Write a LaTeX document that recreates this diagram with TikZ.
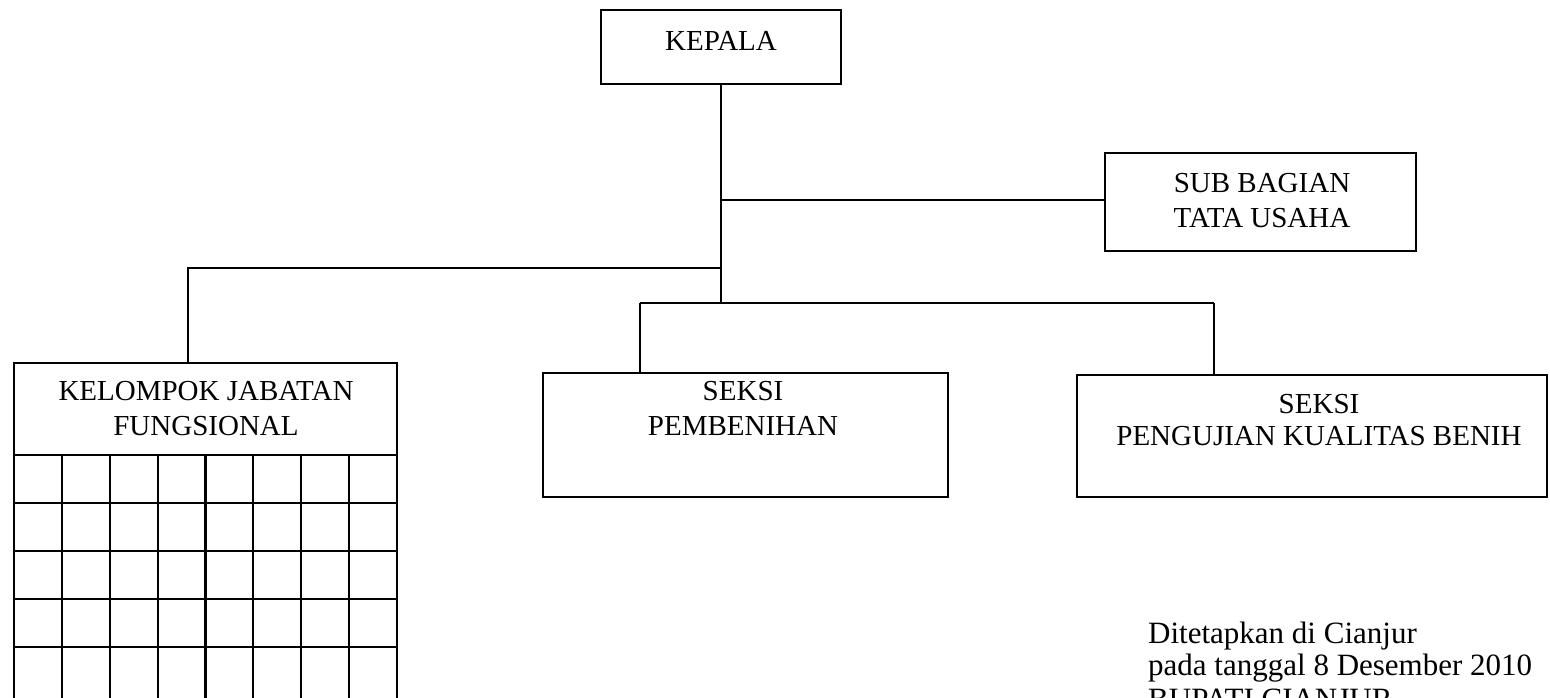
\documentclass[tikz,border=0pt]{standalone}
\usepackage{fontspec}
\setmainfont{Liberation Serif}
\begin{document}
\begin{tikzpicture}[x=1pt,y=-1pt,
  box/.style={draw=black, line width=2pt, inner sep=0pt, outer sep=0pt, rectangle},
  conn/.style={draw=black, line width=2pt},
  gridline/.style={draw=black, line width=2.2pt},
  txt/.style={font=\fontsize{29}{34}\selectfont, inner sep=0pt, anchor=base},
  note/.style={font=\fontsize{31}{36}\selectfont, inner sep=0pt, anchor=base west}]
\useasboundingbox (0,0) rectangle (1550,697);
\clip (0,0) rectangle (1550,697);
\fill[white] (0,0) rectangle (1550,697);

% boxes
\node[box, minimum width=240pt, minimum height=74pt] (kepala) at (721,47) {};
\node[box, minimum width=311pt, minimum height=98pt] (sub) at (1260.5,202) {};
\node[box, minimum width=383pt, minimum height=92pt] (kelompok) at (205.5,409) {};
\node[box, minimum width=405pt, minimum height=124pt] (pemb) at (745.5,435) {};
\node[box, minimum width=470pt, minimum height=122pt] (peng) at (1312,436) {};

% texts
\node[txt] (tkepala) at (721,50) {KEPALA};
\node[txt] (tsub1) at (1262,192) {SUB BAGIAN};
\node[txt] (tsub2) at (1262,227) {TATA USAHA};
\node[txt] (tkel1) at (206,400) {KELOMPOK JABATAN};
\node[txt] (tkel2) at (206,435) {FUNGSIONAL};
\node[txt] (tpemb1) at (743,400) {SEKSI};
\node[txt] (tpemb2) at (743,435) {PEMBENIHAN};
\node[txt] (tpeng1) at (1319,413) {SEKSI};
\node[txt] (tpeng2) at (1319,445) {PENGUJIAN KUALITAS BENIH};

% grid below kelompok
\foreach \i in {0,...,8} {
  \draw[gridline] (14+\i*47.875,455) -- ++(0,260);
}
\foreach \j in {0,...,4} {
  \draw[gridline] (14,455+\j*48) -- (397,455+\j*48);
}

% connectors
\coordinate (jsub) at (721,200);
\coordinate (jleft) at (721,268);
\coordinate (jseksi) at (721,303);
\coordinate (lbar) at (188,268);
\coordinate (sl) at (640,303);
\coordinate (sr) at (1214,303);
\draw[conn] (kepala.south) -- (jseksi);
\draw[conn] (jsub) -- (jsub -| sub.west);
\draw[conn] (jleft) -- (lbar) -- (lbar |- kelompok.north);
\draw[conn] (sl) -- (sr);
\draw[conn] (sl) -- (sl |- pemb.north);
\draw[conn] (sr) -- (sr |- peng.north);

% signature text
\node[note] (n1) at (1148,643) {Ditetapkan di Cianjur};
\node[note] (n2) at (1148,675) {pada tanggal 8 Desember 2010};
\node[note] (n3) at (1148,709) {BUPATI CIANJUR};
\end{tikzpicture}
\end{document}
